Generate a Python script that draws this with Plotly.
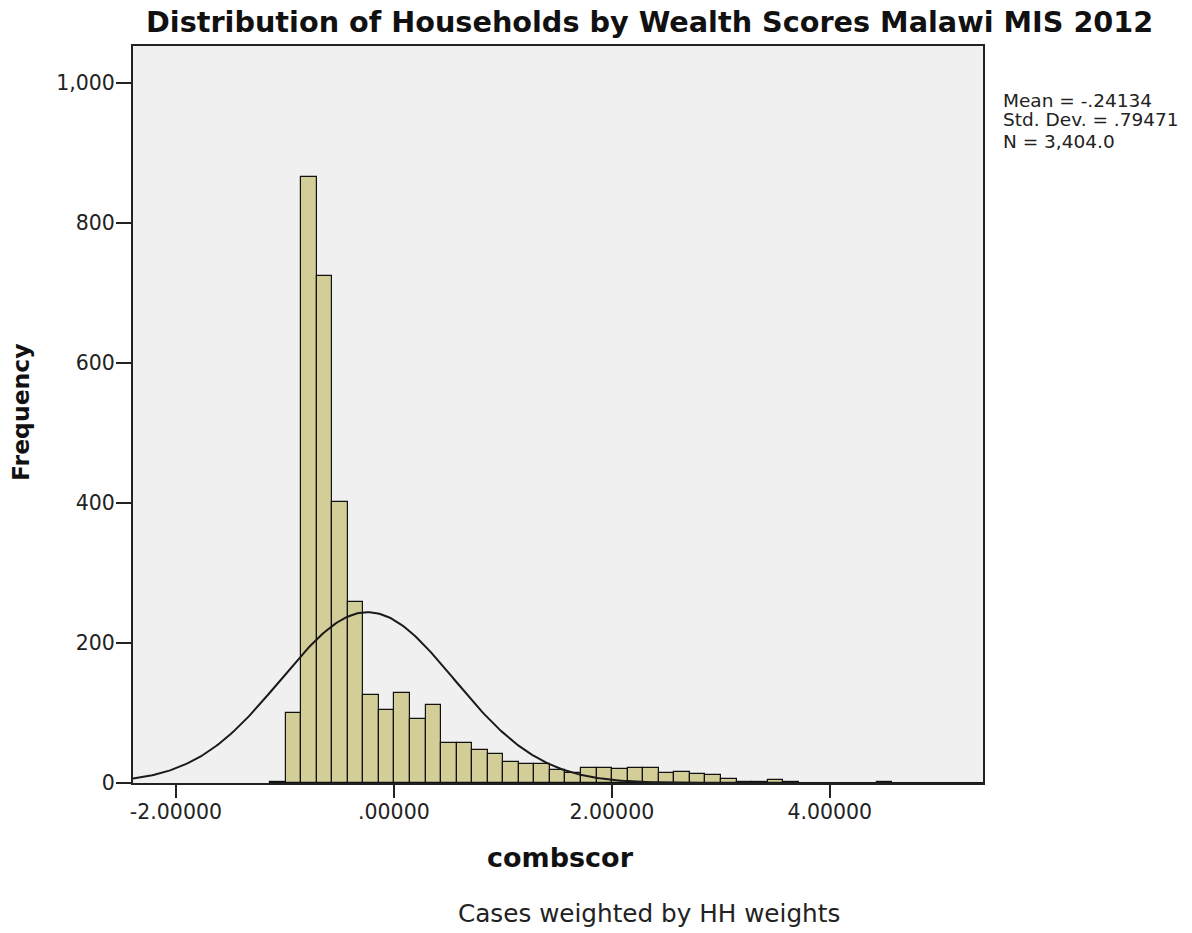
import numpy as np
import plotly.graph_objects as go

# ---- data ----
bin_first_edge = -1.1366
bin_width = 0.1427
counts = [1.5, 100, 865, 724, 401, 258, 125, 104, 129, 92, 111, 57, 57, 47, 41,
          30, 27, 27, 19, 14, 22, 21, 20, 21, 21, 14, 16, 12.5, 12, 6, 1.5, 1,
          4, 1.5, 0, 0, 0, 0, 0, 1]
stat_mean = -0.24134
stat_sd = 0.79471
stat_n = 3404.0
x_tickvals = [-2, 0, 2, 4]
x_ticktext = ["-2.00000", ".00000", "2.00000", "4.00000"]
y_tickvals = [0, 200, 400, 600, 800, 1000]
y_ticktext = ["0", "200", "400", "600", "800", "1,000"]
title_text = "Distribution of Households by Wealth Scores Malawi MIS 2012"
stats_lines = ["Mean = -.24134", "Std. Dev. = .79471", "N = 3,404.0"]

X_RANGE = [-2.394, 5.406]
Y_RANGE = [0, 1052.4]

# ---- layout geometry (pixels, reference coords; body margin removed) ----
W, H = 1192, 933
L, R, T, B = 133, 983, 46, 783

def px(xp):
    return (xp - L) / (R - L)

def py(yp):
    return (B - yp) / (B - T)

centers, heights = [], []
for i, c in enumerate(counts):
    if c > 0:
        centers.append(bin_first_edge + (i + 0.5) * bin_width)
        heights.append(c)

fig = go.Figure()
fig.add_trace(go.Bar(
    x=centers, y=heights, width=bin_width,
    marker=dict(color="#D3CE97", line=dict(color="#111111", width=1.2)),
    hoverinfo="x+y", showlegend=False,
))

xs = np.linspace(X_RANGE[0], X_RANGE[1], 400)
curve = stat_n * bin_width / (stat_sd * np.sqrt(2 * np.pi)) * np.exp(-0.5 * ((xs - stat_mean) / stat_sd) ** 2)
fig.add_trace(go.Scatter(x=xs, y=curve, mode="lines",
                         line=dict(color="#1a1a1a", width=2), showlegend=False,
                         hoverinfo="skip"))

tick_font = dict(family="DejaVu Sans", size=20.5, color="#222222")

fig.update_layout(
    width=W, height=H,
    margin=dict(l=L, r=W - R, t=T, b=H - B, pad=0),
    paper_bgcolor="white",
    plot_bgcolor="#F0F0F0",
    bargap=0,
    xaxis=dict(range=X_RANGE, tickvals=x_tickvals, ticktext=x_ticktext,
               ticks="outside", ticklen=13, tickwidth=2, tickcolor="#222",
               ticklabelstandoff=-4,
               showline=True, linecolor="#222", linewidth=2, mirror=True,
               showgrid=False, zeroline=False, tickfont=tick_font, fixedrange=True),
    yaxis=dict(range=Y_RANGE, tickvals=y_tickvals, ticktext=y_ticktext,
               ticks="outside", ticklen=15, tickwidth=2, tickcolor="#222",
               ticklabelstandoff=-3,
               showline=True, linecolor="#222", linewidth=2, mirror=True,
               showgrid=False, zeroline=False, tickfont=tick_font, fixedrange=True),
)

ann = []
ann.append(dict(text="<b>" + title_text + "</b>", x=px(649), y=py(22),
                font=dict(family="DejaVu Sans", size=28.7, color="#111")))
ann.append(dict(text="<b>combscor</b>", x=px(560), y=py(857),
                font=dict(family="DejaVu Sans", size=27, color="#111")))
ann.append(dict(text="<b>Frequency</b>", x=px(21), y=py(412), textangle=-90,
                font=dict(family="DejaVu Sans", size=23.5, color="#111")))
ann.append(dict(text="Cases weighted by HH weights", x=px(648.5), y=py(913),
                font=dict(family="DejaVu Sans", size=24.7, color="#222")))
for line, yc in zip(stats_lines, [100, 120, 141.5]):
    ann.append(dict(text=line, x=px(1001), y=py(yc), xanchor="left",
                    font=dict(family="DejaVu Sans", size=18.5, color="#222")))

for a in ann:
    a.setdefault("xanchor", "center")
    a.update(xref="paper", yref="paper", yanchor="middle", showarrow=False)
fig.update_layout(annotations=ann)

fig.write_html("out.html",
               config={"displayModeBar": False},
               post_script="document.body.style.margin='0';document.body.style.overflow='hidden';")
